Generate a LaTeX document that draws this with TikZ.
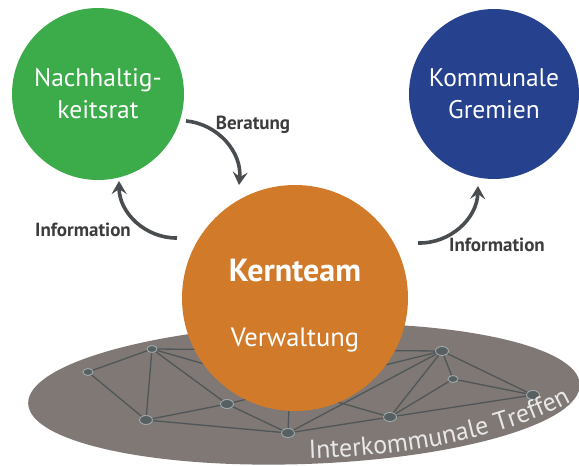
\documentclass[tikz,border=0pt]{standalone}
\usepackage{fontspec}
\setmainfont{PT Sans}
\usepackage{tikz}
\usetikzlibrary{arrows.meta,calc,positioning,shapes.geometric,decorations.text}

\definecolor{ratgreen}{RGB}{60,171,74}
\definecolor{gremblue}{RGB}{38,65,141}
\definecolor{kernorange}{RGB}{209,122,42}
\definecolor{plategray}{RGB}{127,120,117}
\definecolor{netline}{RGB}{80,86,88}
\definecolor{hubfill}{RGB}{88,95,97}
\definecolor{hubring}{RGB}{160,170,174}
\definecolor{arrowgray}{RGB}{74,77,80}
\definecolor{labelgray}{RGB}{60,60,60}
\definecolor{treffen}{RGB}{232,232,232}

\begin{document}
\begin{tikzpicture}[x=1pt,y=-1pt,
                    flow/.style={-{Stealth[length=13pt,width=15pt,inset=5pt]},line width=3.6pt,draw=arrowgray},
                    bubble/.style={circle,inner sep=0pt,text=white,align=center},
                    lab/.style={font=\bfseries\fontsize{19}{19}\selectfont,text=labelgray},
                    hub/.style={ellipse,draw=hubring,fill=hubfill,line width=0.9pt,
                                minimum width=13pt,minimum height=9pt,inner sep=0pt},
                    smallhub/.style={hub,minimum width=10pt,minimum height=7pt}]

 \useasboundingbox (0,0) rectangle (579,466);

 % plate for the meetings
 \coordinate (pl) at (304,394);
 \fill[plategray,rotate around={2:(pl)}] (pl) ellipse [x radius=276,y radius=70];

 % network on the plate
 \node[smallhub] (n1) at (152,349) {};
 \node[smallhub] (n2) at (88,372) {};
 \node[hub] (n3) at (146,420) {};
 \node[hub] (n4) at (227,404) {};
 \node[hub] (n5) at (288,433) {};
 \node[hub] (n6) at (442,351) {};
 \node[smallhub] (n7) at (453,379) {};
 \node[hub] (n8) at (533,395) {};
 \node[hub] (n9) at (390,417) {};
 \coordinate (h) at (290,380);

 \begin{scope}[every edge/.style={draw=netline,line width=1.3pt}]
  \path (n1) edge (n2) edge (n3) edge (n4) edge (n6) edge (n9)
        (n2) edge (n3)
        (n3) edge (n4) edge (n5)
        (n4) edge (n5) edge (n6)
        (n5) edge (n6) edge (n9) edge (h)
        (n6) edge (n7) edge (n8) edge (n9)
        (n7) edge (n8) edge (n9)
        (n8) edge (n9);
 \end{scope}

 % the three groups
 \node[bubble,fill=kernorange,minimum size=226pt] (kern) at (295,298) {};
 \node[font=\bfseries\fontsize{32}{32}\selectfont,text=white,anchor=base] (kt) at (295,281) {Kernteam};
 \node[font=\fontsize{26.5}{26.5}\selectfont,text=white,anchor=base] (vw) at (295,346) {Verwaltung};

 \node[bubble,fill=ratgreen,minimum size=172pt,
       font=\fontsize{25.5}{32}\selectfont] (rat) at (98,94) {Nachhaltig-\\keitsrat};
 \node[bubble,fill=gremblue,minimum size=170pt,
       font=\fontsize{25.5}{32}\selectfont] (grem) at (494,94) {Kommunale\\Gremien};

 % flows
 \coordinate (b1) at (186,121);
 \coordinate (b2) at (239,185);
 \coordinate (i1) at (177,238);
 \coordinate (i2) at (119,181);
 \coordinate (o1) at (418,243);
 \coordinate (o2) at (478,186);
 \draw[flow] (b1) to[bend left=45] (b2);
 \draw[flow] (i1) to[bend left=45] (i2);
 \draw[flow] (o1) to[bend right=45] (o2);

 \node[lab] (ber) at (253,125) {Beratung};
 \node[lab] (inl) at (83,230) {Information};
 \node[lab] (inr) at (497,245) {Information};

 % label on the plate
 \coordinate (t1) at (306,459);
 \coordinate (t2) at (574,400);
 \path[decorate,decoration={text along path,text align=center,
       text={|\color{treffen}\fontsize{26}{26}\selectfont|Interkommunale Treffen}}]
       (t1) .. controls (400,456) and (500,441) .. (t2);

\end{tikzpicture}
\end{document}
